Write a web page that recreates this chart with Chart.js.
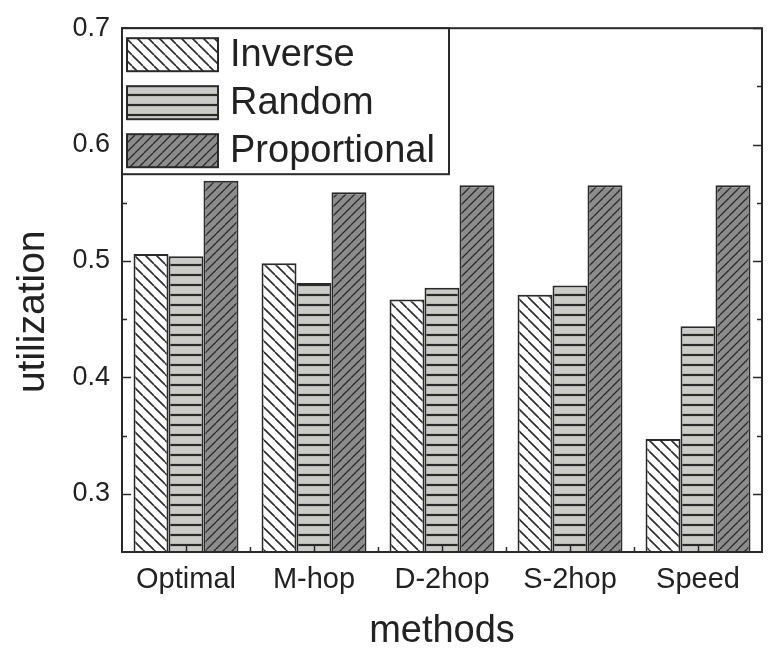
<!DOCTYPE html>
<html>
<head>
<meta charset="utf-8">
<script src="https://cdn.jsdelivr.net/npm/chart.js@4/dist/chart.umd.min.js"></script>
<style>
  html, body { margin: 0; padding: 0; background: #ffffff; }
  #wrap { width: 775px; height: 651px; }
</style>
</head>
<body>
<div id="wrap"><canvas id="c" width="775" height="651"></canvas></div>
<script>
const categories = ['Optimal', 'M-hop', 'D-2hop', 'S-2hop', 'Speed'];
const seriesNames = ['Inverse', 'Random', 'Proportional'];
const inverseValues = [0.506, 0.498, 0.467, 0.471, 0.347];
const randomValues = [0.504, 0.481, 0.477, 0.479, 0.444];
const proportionalValues = [0.569, 0.559, 0.565, 0.565, 0.565];
const yMajorTicks = [0.3, 0.4, 0.5, 0.6, 0.7];
const yMinorTicks = [0.35, 0.45, 0.55, 0.65];
const yMin = 0.25, yMax = 0.7;

const INK = '#2a2a2a';
const FONT = '"Liberation Sans", Arial, sans-serif';

function makePattern(bg, kind, size, lw) {
  const c = document.createElement('canvas');
  c.width = size; c.height = size;
  const g = c.getContext('2d');
  g.fillStyle = bg; g.fillRect(0, 0, size, size);
  g.strokeStyle = INK; g.lineWidth = lw;
  g.beginPath();
  if (kind === 'back') {
    for (let k = -size; k <= size; k += size) { g.moveTo(k, 0); g.lineTo(k + size, size); }
  } else if (kind === 'fwd') {
    for (let k = -size; k <= size; k += size) { g.moveTo(k + size, 0); g.lineTo(k, size); }
  } else {
    g.moveTo(0, size / 2); g.lineTo(size, size / 2);
  }
  g.stroke();
  return document.getElementById('c').getContext('2d').createPattern(c, 'repeat');
}

const patInverse = makePattern('#ffffff', 'back', 11, 1.6);
const patRandom = makePattern('#cbcbc7', 'horiz', 10, 2.2);
const patProp = makePattern('#8c8c8c', 'fwd', 9, 1.3);

const frameAndTicks = {
  id: 'frameAndTicks',
  afterDatasetsDraw(chart) {
    const { ctx, chartArea: a, scales } = chart;
    const y = scales.y, x = scales.x;
    ctx.save();
    ctx.strokeStyle = INK;
    ctx.lineWidth = 2;
    ctx.strokeRect(a.left, a.top, a.right - a.left, a.bottom - a.top);
    ctx.lineWidth = 1.5;
    ctx.beginPath();
    yMajorTicks.forEach(v => {
      const p = Math.round(y.getPixelForValue(v)) + 0.5;
      ctx.moveTo(a.left, p); ctx.lineTo(a.left + 9, p);
      ctx.moveTo(a.right, p); ctx.lineTo(a.right - 9, p);
    });
    yMinorTicks.forEach(v => {
      const p = Math.round(y.getPixelForValue(v)) + 0.5;
      ctx.moveTo(a.left, p); ctx.lineTo(a.left + 5, p);
      ctx.moveTo(a.right, p); ctx.lineTo(a.right - 5, p);
    });
    categories.forEach((c, i) => {
      const p = Math.round(x.getPixelForValue(i)) + 0.5;
      ctx.moveTo(p, a.bottom); ctx.lineTo(p, a.bottom - 8);
      if (i > 0) {
        const b = Math.round((x.getPixelForValue(i - 1) + x.getPixelForValue(i)) / 2) + 0.5;
        ctx.moveTo(b, a.bottom); ctx.lineTo(b, a.bottom - 5);
      }
    });
    ctx.stroke();
    ctx.restore();
  }
};

const boxLegend = {
  id: 'boxLegend',
  afterDraw(chart) {
    const { ctx, chartArea: a } = chart;
    const bx = a.left, by = a.top, bw = 327, bh = 146;
    ctx.save();
    ctx.fillStyle = '#ffffff';
    ctx.fillRect(bx, by, bw, bh);
    ctx.strokeStyle = INK;
    ctx.lineWidth = 2;
    ctx.strokeRect(bx, by, bw, bh);
    ctx.font = '38px ' + FONT;
    ctx.textBaseline = 'middle';
    ctx.textAlign = 'left';
    chart.data.datasets.forEach((ds, i) => {
      const sy = by + 10 + i * 48;
      ctx.fillStyle = ds.backgroundColor;
      ctx.fillRect(bx + 5, sy, 91, 33);
      ctx.lineWidth = 2;
      ctx.strokeStyle = INK;
      ctx.strokeRect(bx + 5, sy, 91, 33);
      ctx.fillStyle = '#222222';
      ctx.fillText(ds.label, bx + 108, sy + 17);
    });
    ctx.restore();
  }
};

new Chart(document.getElementById('c'), {
  type: 'bar',
  data: {
    labels: categories,
    datasets: [
      { label: seriesNames[0], data: inverseValues, backgroundColor: patInverse },
      { label: seriesNames[1], data: randomValues, backgroundColor: patRandom },
      { label: seriesNames[2], data: proportionalValues, backgroundColor: patProp }
    ]
  },
  options: {
    responsive: false,
    animation: false,
    devicePixelRatio: 1,
    layout: { padding: { top: 22, right: 13, left: 0, bottom: 0 } },
    datasets: {
      bar: {
        borderColor: INK,
        borderWidth: 2,
        borderSkipped: false,
        categoryPercentage: 0.82,
        barPercentage: 1.0
      }
    },
    plugins: {
      legend: { display: false },
      tooltip: { enabled: false }
    },
    scales: {
      x: {
        grid: { display: false, drawTicks: false },
        border: { display: false },
        ticks: { color: '#222222', font: { family: FONT, size: 29 }, padding: 11 },
        title: {
          display: true, text: 'methods', color: '#222222',
          font: { family: FONT, size: 38, lineHeight: 1.0 },
          padding: { top: 0, bottom: 0 }
        },
        afterFit(s) { s.height = 99; }
      },
      y: {
        min: yMin, max: yMax,
        grid: { display: false, drawTicks: false },
        border: { display: false },
        afterBuildTicks(s) { s.ticks = yMajorTicks.map(v => ({ value: v })); },
        ticks: {
          color: '#222222', font: { family: FONT, size: 27 }, padding: 12,
          callback: v => v.toFixed(1)
        },
        title: {
          display: true, text: 'utilization    ', color: '#222222',
          font: { family: FONT, size: 39, lineHeight: 1.0 },
          padding: { top: 14, bottom: 0 }
        },
        afterFit(s) { s.width = 122; }
      }
    }
  },
  plugins: [frameAndTicks, boxLegend]
});
</script>
</body>
</html>
